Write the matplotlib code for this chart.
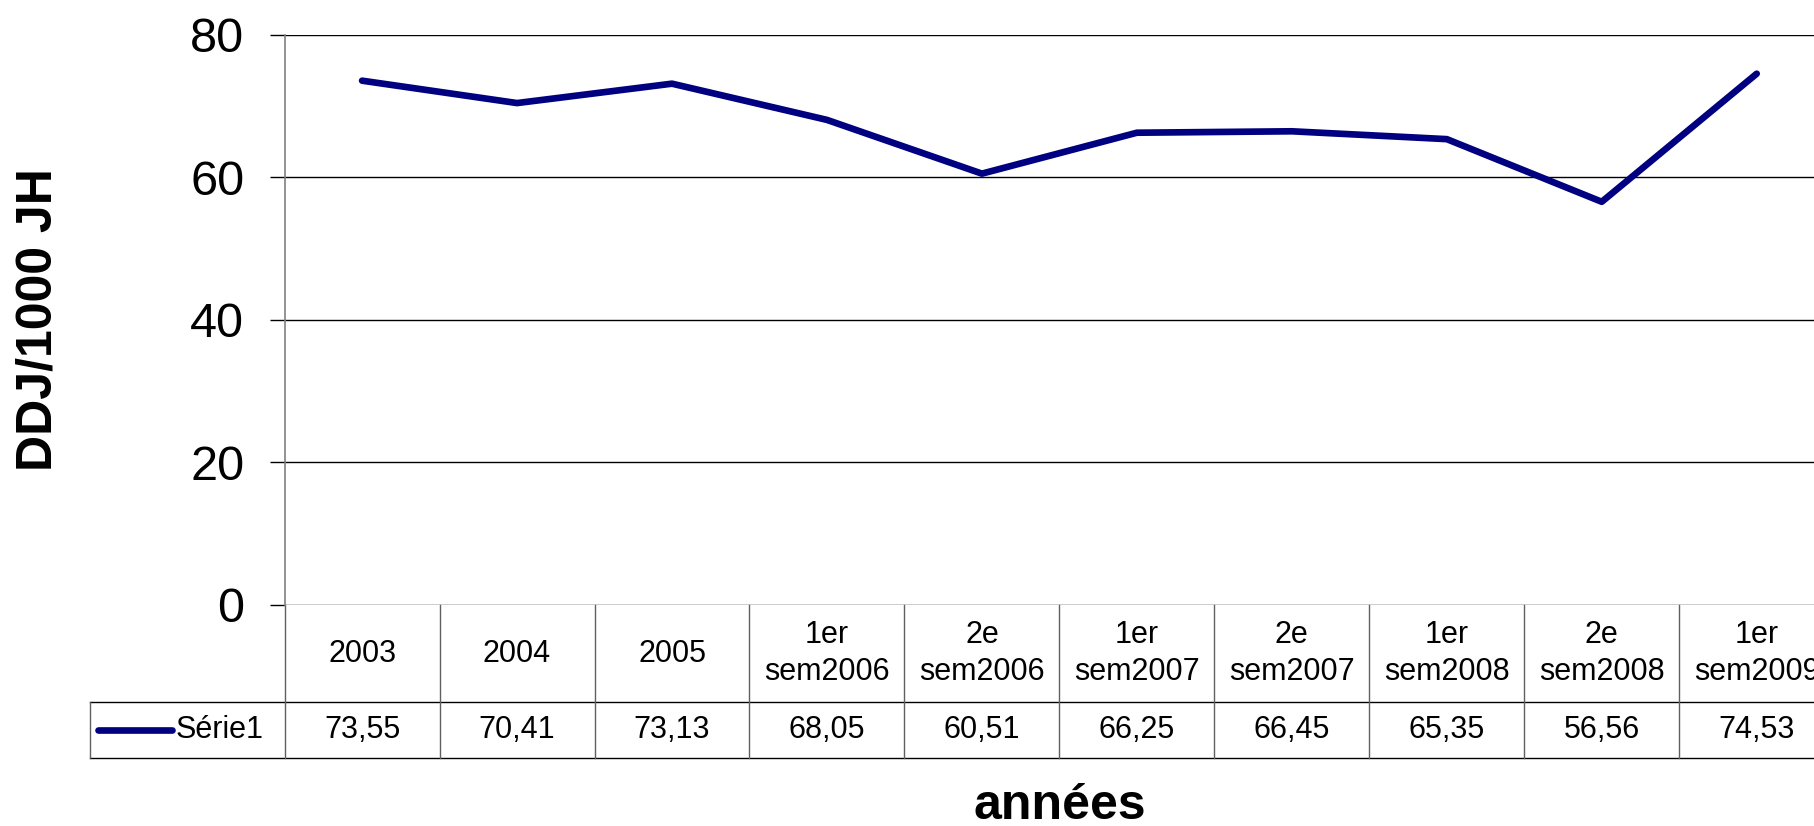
import matplotlib

matplotlib.use("Agg")
import matplotlib.pyplot as plt
import numpy as np

categories = [
    "2003", "2004", "2005",
    "1er\nsem2006", "2e\nsem2006",
    "1er\nsem2007", "2e\nsem2007",
    "1er\nsem2008", "2e\nsem2008",
    "1er\nsem2009",
]
serie1 = [73.55, 70.41, 73.13, 68.05, 60.51, 66.25, 66.45, 65.35, 56.56, 74.53]
series_name = "Série1"
y_ticks = [0, 20, 40, 60, 80]

plt.rcParams["font.family"] = ["Liberation Sans", "DejaVu Sans"]

W, H = 1814, 826
fig = plt.figure(figsize=(W / 100, H / 100), dpi=100)
ax = fig.add_axes([284.6 / W, 1 - 605 / H, 1549.6 / W, 570.3 / H])

x = np.arange(len(categories))
ax.plot(x, serie1, color="#000080", linewidth=4.8,
        solid_capstyle="round", solid_joinstyle="round", zorder=3)

ax.set_xlim(-0.5, len(categories) - 0.5)
ax.set_ylim(0, 80)
ax.set_yticks(y_ticks)
ax.set_xticks([])
ax.grid(axis="y", color="black", linewidth=1.0, zorder=1)
ax.tick_params(axis="y", length=11, width=1.0, color="black",
               labelsize=35, pad=18)
for side in ("top", "right", "bottom"):
    ax.spines[side].set_visible(False)
ax.spines["left"].set_color("#808080")
ax.spines["left"].set_linewidth(1.2)

ax.set_ylabel("DDJ/1000 JH", fontsize=36, fontweight="bold")
ax.yaxis.set_label_coords(-0.159, 0.5)
ax.yaxis.label.set_va("center")
ax.set_xlabel("années", fontsize=36, fontweight="bold")
ax.xaxis.set_label_coords(0.5, -0.353)
ax.xaxis.label.set_va("center")

# data table under the plot (Excel style)
tr = ax.get_xaxis_transform()
head_bot = -97 / 570.3
row_bot = -153 / 570.3
legend_left = -0.5 - (284.6 - 90) / 154.9
kw = dict(transform=tr, clip_on=False)

ax.plot([legend_left, len(categories) - 0.5], [head_bot, head_bot],
        color="black", linewidth=1.0, **kw)
ax.plot([legend_left, len(categories) - 0.5], [row_bot, row_bot],
        color="black", linewidth=1.0, **kw)
ax.plot([legend_left, legend_left], [head_bot, row_bot],
        color="#606060", linewidth=1.0, **kw)
for k in range(len(categories) + 1):
    ax.plot([k - 0.5, k - 0.5], [0, row_bot], color="#606060",
            linewidth=1.0, **kw)

for i, (cat, val) in enumerate(zip(categories, serie1)):
    ax.text(i, head_bot / 2, cat, ha="center", va="center", fontsize=22,
            linespacing=1.3, transform=tr)
    ax.text(i, (head_bot + row_bot) / 2, f"{val:.2f}".replace(".", ","),
            ha="center", va="center", fontsize=22, transform=tr)

row_mid = (head_bot + row_bot) / 2
ax.plot([legend_left + 8 / 154.9, legend_left + 82 / 154.9], [row_mid, row_mid],
        color="#000080", linewidth=4.8, solid_capstyle="round", **kw)
ax.text(legend_left + 86 / 154.9, row_mid, series_name, ha="left",
        va="center", fontsize=22, transform=tr)

fig.savefig("out.png", dpi=100)
